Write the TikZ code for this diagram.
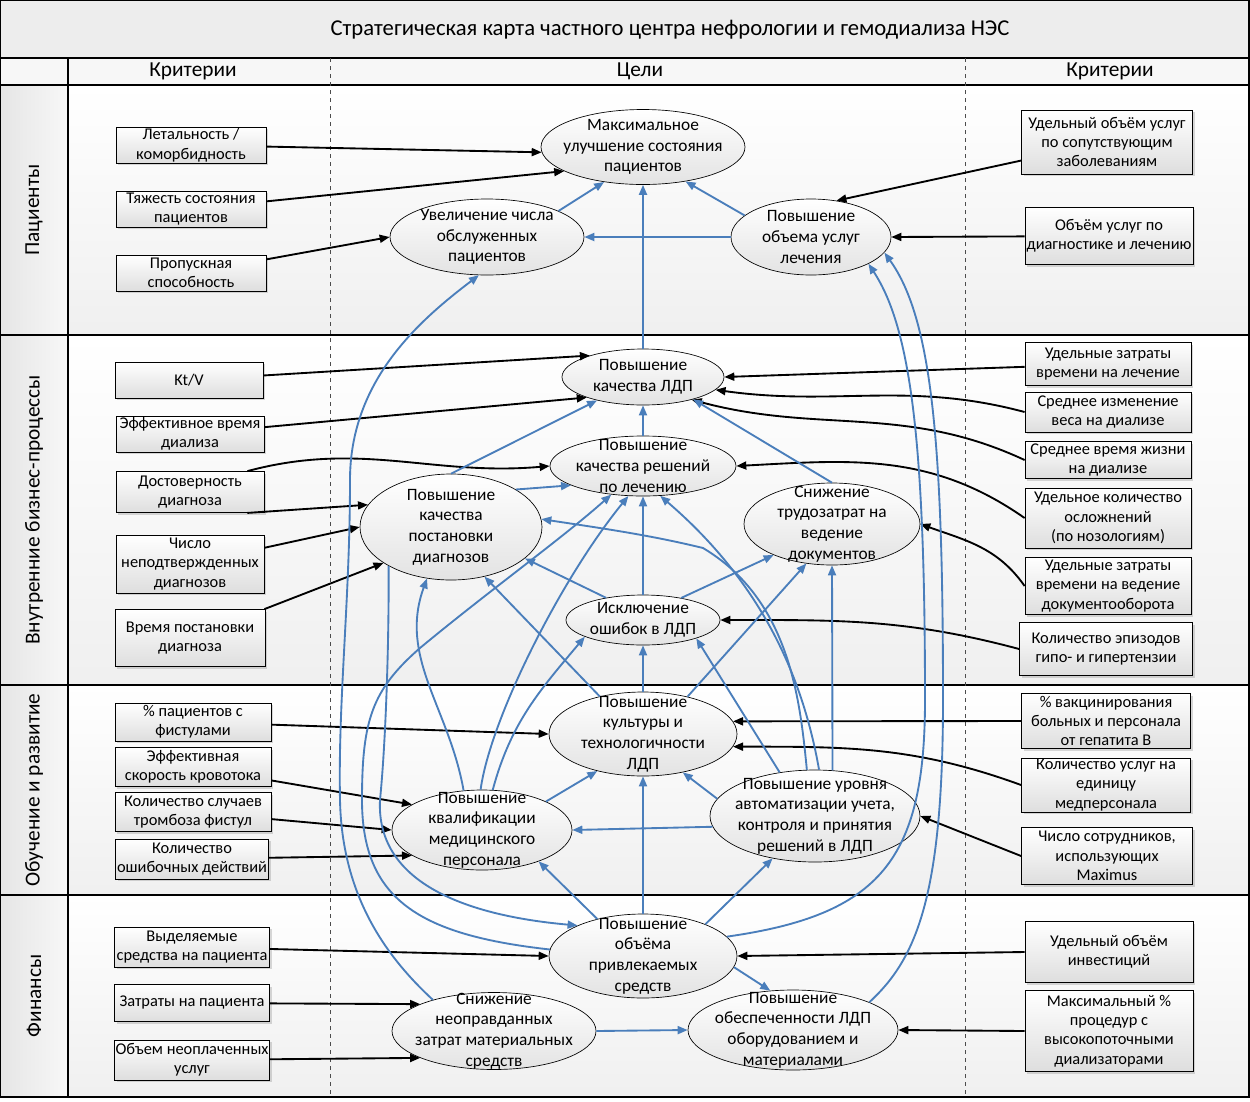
\documentclass[tikz,border=0pt]{standalone}
\usepackage{fontspec}
\setmainfont{Carlito}
\usetikzlibrary{positioning,arrows.meta,shapes.geometric,shadows}
\definecolor{linkblue}{HTML}{4A7EBB}
\begin{document}
\begin{tikzpicture}[x=0.75pt, y=0.75pt, font=\fontsize{13}{15.5}\selectfont,
  sz/.style 2 args={minimum width=#1*0.75pt, minimum height=#2*0.75pt},
  crit/.style={draw=black, line width=0.6pt, align=center, inner sep=0pt, top color=white, bottom color=black!13,
    font=\fontsize{12.3}{14.5}\selectfont, drop shadow={shadow xshift=1.5pt, shadow yshift=-1.5pt, opacity=0.3}},
  goal/.style={ellipse, draw=black, line width=0.5pt, align=center, inner sep=-30pt, top color=white, bottom color=black!11},
  arr/.style={-{Triangle[length=7.5pt,width=6pt]}, line width=1.4pt, draw=black},
  link/.style={-{Triangle[length=7.5pt,width=6pt]}, line width=1.4pt, draw=linkblue},
  head/.style={font=\fontsize{16}{18}\selectfont},
  lanelbl/.style={rotate=90, font=\fontsize{16}{18}\selectfont}]
\useasboundingbox (0,0) rectangle (1250,-1101);
% frame and lanes
\fill[black!7] (0,0) rectangle (1249,-58);
\fill[black!3] (0,-58) rectangle (1249,-85);
\foreach \ya/\yb in {85/335, 335/685, 685/895, 895/1097} {
  \shade[top color=white, bottom color=black!6] (68,-\ya) rectangle (1249,-\yb);
  \shade[left color=black!10, right color=black!3] (0,-\ya) rectangle (68,-\yb);
}
\draw[line width=0.8pt] (0,0) rectangle (1249,-1097);
\foreach \y in {58, 85, 335, 685, 895} \draw[line width=0.8pt] (0,-\y) -- (1249,-\y);
\draw[line width=0.8pt] (68,-58) -- (68,-1097);
\draw[dashed, black!70, line width=0.6pt] (330,-58) -- (330,-1097);
\draw[dashed, black!70, line width=0.6pt] (965,-58) -- (965,-1097);
\node[font=\fontsize{17}{19}\selectfont] (title) at (670,-30) {Стратегическая карта частного центра нефрологии и гемодиализа НЭС};
\node[head] (hcl) at (193,-71) {Критерии};
\node[head] (hgo) at (640,-71) {Цели};
\node[head] (hcr) at (1110,-71) {Критерии};
\node[lanelbl] (l1) at (34,-210) {Пациенты};
\node[lanelbl] (l2) at (34,-510) {Внутренние бизнес-процессы};
\node[lanelbl] (l3) at (34,-790) {Обучение и развитие};
\node[lanelbl] (l4) at (34,-996) {Финансы};

% goals
\node[goal, sz={204}{75}] (max) at (643,-147) {Максимальное\\улучшение состояния\\пациентов};
\node[goal, sz={194}{76}] (num) at (487,-237) {Увеличение числа\\обслуженных\\пациентов};
\node[goal, sz={160}{76}] (vol) at (811,-237) {Повышение\\объема услуг\\лечения};
\node[goal, sz={162}{56}] (qldp) at (643,-377) {Повышение\\качества ЛДП};
\node[goal, sz={186}{60}] (dec) at (643,-466) {Повышение\\качества решений\\по лечению};
\node[goal, sz={182}{106}] (diag) at (451,-527) {Повышение\\качества\\постановки\\диагнозов};
\node[goal, sz={176}{82}] (doc) at (832,-524) {Снижение\\трудозатрат на\\ведение\\документов};
\node[goal, sz={154}{50}] (err) at (643,-620) {Исключение\\ошибок в ЛДП};
\node[goal, sz={188}{84}] (cult) at (643,-734) {Повышение\\культуры и\\технологичности\\ЛДП};
\node[goal, sz={180}{80}] (qual) at (482,-830) {Повышение\\квалификации\\медицинского\\персонала};
\node[goal, sz={210}{92}] (auto) at (815,-816) {Повышение уровня\\автоматизации учета,\\контроля и принятия\\решений в ЛДП};
\node[goal, sz={188}{84}] (attr) at (643,-956) {Повышение\\объёма\\привлекаемых\\средств};
\node[goal, sz={204}{77}] (cost) at (494,-1031) {Снижение\\неоправданных\\затрат материальных\\средств};
\node[goal, sz={210}{80}] (equip) at (793,-1030) {Повышение\\обеспеченности ЛДП\\оборудованием и\\материалами};

% criteria, left
\node[crit, sz={150}{36}] (let) at (191,-145) {Летальность /\\коморбидность};
\node[crit, sz={150}{36}] (sev) at (191,-209) {Тяжесть состояния\\пациентов};
\node[crit, sz={150}{36}] (thr) at (191,-273) {Пропускная\\способность};
\node[crit, sz={148}{36}] (ktv) at (189,-380) {Kt/V};
\node[crit, sz={148}{36}] (eft) at (190,-434) {Эффективное время\\диализа};
\node[crit, sz={148}{41}] (rel) at (190,-492) {Достоверность\\диагноза};
\node[crit, sz={148}{58}] (unc) at (190,-564) {Число\\неподтвержденных\\диагнозов};
\node[crit, sz={150}{57}] (tdg) at (190,-638) {Время постановки\\диагноза};
\node[crit, sz={156}{38}] (fis) at (193,-722) {\% пациентов с\\фистулами};
\node[crit, sz={156}{39}] (blf) at (193,-767) {Эффективная\\скорость кровотока};
\node[crit, sz={156}{39}] (thb) at (193,-812) {Количество случаев\\тромбоза фистул};
\node[crit, sz={153}{40}] (wra) at (192,-859) {Количество\\ошибочных действий};
\node[crit, sz={155}{40}] (alc) at (192,-947) {Выделяемые\\средства на пациента};
\node[crit, sz={155}{37}] (cst) at (192,-1003) {Затраты на пациента};
\node[crit, sz={155}{40}] (unp) at (192,-1060) {Объем неоплаченных\\услуг};

% criteria, right
\node[crit, sz={171}{64}] (com) at (1107,-142) {Удельный объём услуг\\по сопутствующим\\заболеваниям};
\node[crit, sz={168}{57}] (dgt) at (1109,-236) {Объём услуг по\\диагностике и лечению};
\node[crit, sz={166}{43}] (tmt) at (1108,-364) {Удельные затраты\\времени на лечение};
\node[crit, sz={166}{40}] (wgt) at (1108,-412) {Среднее изменение\\веса на диализе};
\node[crit, sz={166}{37}] (lif) at (1108,-460) {Среднее время жизни\\на диализе};
\node[crit, sz={166}{60}] (cmp) at (1108,-518) {Удельное количество\\осложнений\\(по нозологиям)};
\node[crit, sz={166}{57}] (tdoc) at (1108,-586) {Удельные затраты\\времени на ведение\\документооборота};
\node[crit, sz={173}{53}] (hyp) at (1106,-649) {Количество эпизодов\\гипо- и гипертензии};
\node[crit, sz={169}{55}] (vac) at (1106,-721) {\% вакцинирования\\больных и персонала\\от гепатита B};
\node[crit, sz={169}{54}] (srv) at (1106,-785) {Количество услуг на\\единицу\\медперсонала};
\node[crit, sz={171}{57}] (emp) at (1107,-856) {Число сотрудников,\\использующих\\Maximus};
\node[crit, sz={168}{61}] (inv) at (1109,-952) {Удельный объём\\инвестиций};
\node[crit, sz={168}{81}] (hfd) at (1109,-1031) {Максимальный \%\\процедур с\\высокопоточными\\диализаторами};

% criteria -> goals
\draw[arr] (let) -- (max.183);
\draw[arr] (sev) -- (max.197);
\draw[arr] (thr) -- (num.west);
\draw[arr] (ktv) -- (qldp.158);
\draw[arr] (eft) -- (qldp.200);
\draw[arr] (rel.20) to[out=15, in=185] (dec.west);
\draw[arr] (rel.-20) -- (diag.165);
\draw[arr] (unc) -- (diag.180);
\draw[arr] (tdg) -- (diag.208);
\draw[arr] (fis) -- (cult.west);
\draw[arr] (blf) -- (qual.160);
\draw[arr] (thb) -- (qual.west);
\draw[arr] (wra) -- (qual.200);
\draw[arr] (alc) -- (attr.west);
\draw[arr] (cst) -- (cost.160);
\draw[arr] (unp) -- (cost.200);
\draw[arr] (com) -- (vol.55);
\draw[arr] (dgt) -- (vol.east);
\draw[arr] (tmt) -- (qldp.east);
\draw[arr] (wgt.west) to[out=165, in=-8] (qldp.-10);
\draw[arr] (lif.west) to[out=155, in=-15] (qldp.-25);
\draw[arr] (cmp.west) to[out=145, in=3] (dec.east);
\draw[arr] (tdoc.west) to[out=125, in=-20] (doc.east);
\draw[arr] (hyp.west) to[out=165, in=0] (err.east);
\draw[arr] (vac.west) -- (cult.8);
\draw[arr] (srv.west) to[out=160, in=0] (cult.-8);
\draw[arr] (emp.west) -- (auto.east);
\draw[arr] (inv.west) -- (attr.east);
\draw[arr] (hfd.west) -- (equip.east);

% goal -> goal
\draw[link] (num.20) -- (max.222);
\draw[link] (vol.162) -- (max.-39);
\draw[link] (vol.west) -- (num.east);
\draw[link] (qldp.north) -- (max.south);
\draw[link] (dec.north) -- (qldp.south);
\draw[link] (diag.90) -- (qldp.207);
\draw[link] (diag.30) -- (dec.195);
\draw[link] (doc.north) -- (qldp.-24);
\draw[link] (err.north) -- (dec.south);
\draw[link] (err.149) -- (diag.-23);
\draw[link] (err.30) -- (doc.208);
\draw[link] (cult.north) -- (err.south);
\draw[link] (cult.139) -- (diag.-56);
\draw[link] (cult.40) -- (doc.237);
\draw[link] (auto.129) -- (err.-19);
\draw[link] (auto.69) -- (doc.south);
\draw[link] (qual.24) -- (cult.219);
\draw[link] (auto.170) -- (cult.-44);
\draw[link] (auto.186) -- (qual.east);
\draw[link] (attr.north) -- (cult.south);
\draw[link] (attr.141) -- (qual.-29);
\draw[link] (attr.27) -- (auto.225);
\draw[link] (attr.-7) -- (equip.120);
\draw[link] (cost.east) -- (equip.west);
\draw[link] (qual.115) to[out=100, in=-110] (diag.245);
\draw[link] (qual.92) .. controls (490,-720) and (560,-580) .. (dec.244);
\draw[link] (qual.75) to[out=75, in=-130] (err.196);
\draw[link] (auto.100) .. controls (800,-700) and (790,-600) .. (703,-548) .. controls (650,-535) and (600,-528) .. (diag.5);
\draw[link] (auto.85) .. controls (805,-690) and (770,-590) .. (dec.-60);
\draw[link] (cost.153) .. controls (390,-960) and (342,-900) .. (340,-800) .. controls (338,-700) and (350,-600) .. (350,-480) .. controls (350,-380) and (420,-320) .. (num.258);
\draw[link] (attr.176) .. controls (420,-935) and (362,-900) .. (362,-800) .. controls (362,-720) and (372,-690) .. (420,-648) .. controls (490,-590) and (560,-540) .. (dec.222);
\draw[link] (diag.212) .. controls (389,-640) and (386,-740) .. (380,-800) .. controls (376,-880) and (460,-915) .. (attr.155);
\draw[link] (attr.13) .. controls (880,-915) and (925,-860) .. (925,-700) .. controls (925,-450) and (912,-330) .. (vol.-25);
\draw[link] (equip.20) .. controls (915,-960) and (943,-900) .. (943,-700) .. controls (943,-450) and (933,-320) .. (vol.-12);
\end{tikzpicture}
\end{document}
